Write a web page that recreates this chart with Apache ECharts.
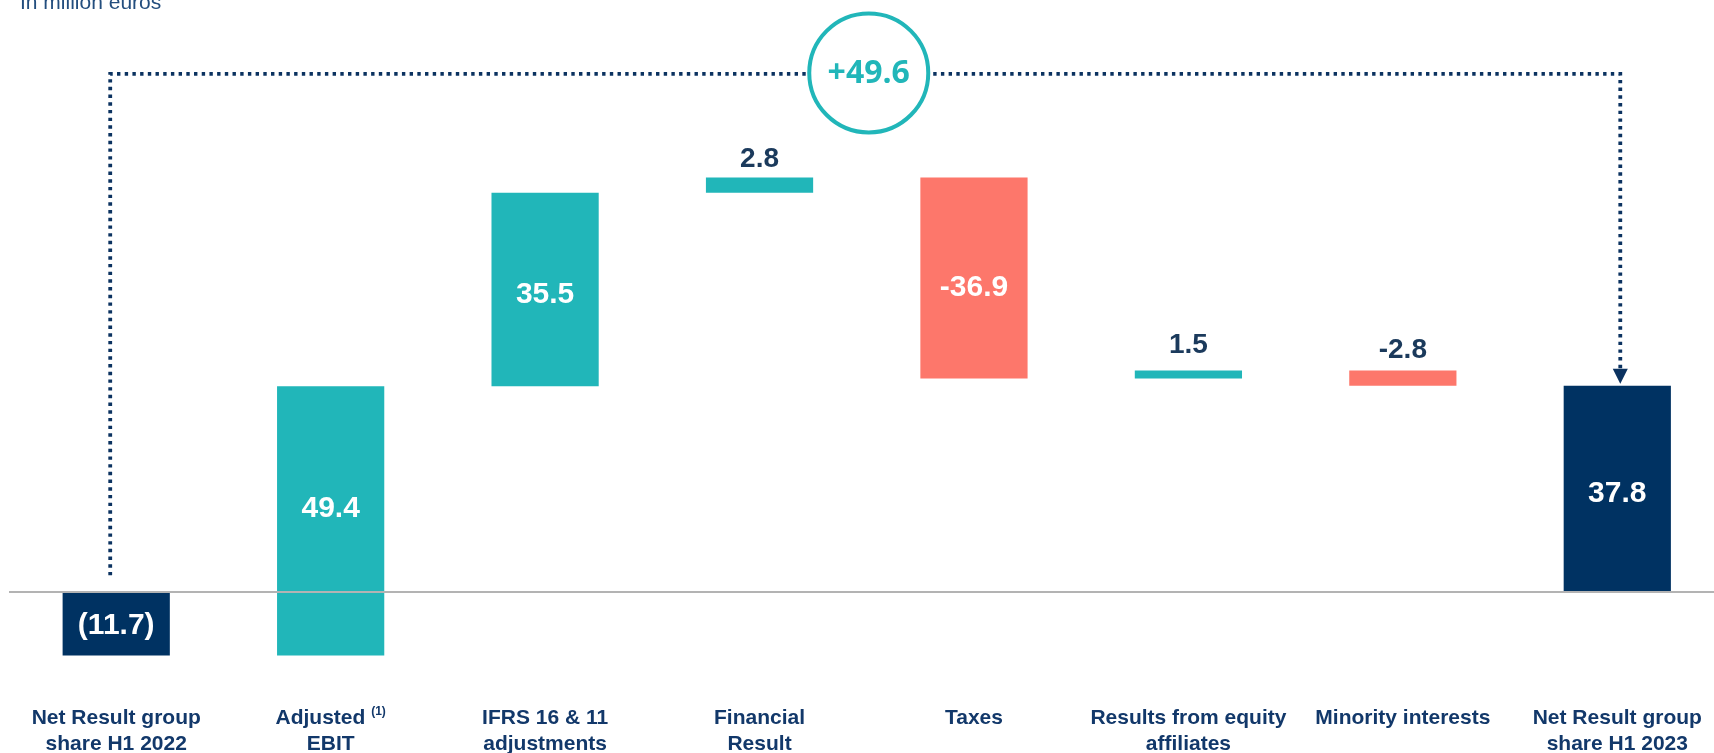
<!DOCTYPE html>
<html>
<head>
<meta charset="utf-8">
<script src="https://cdn.jsdelivr.net/npm/echarts@6/dist/echarts.min.js"></script>
<style>
html, body { margin: 0; padding: 0; background: #fff; }
#main { width: 1714px; height: 753px; }
</style>
</head>
<body>
<div id="main"></div>
<script>
// data (million euros)
const categories = [
    'Net Result group\nshare H1 2022',
    'Adjusted {sup|(1)}\nEBIT',
    'IFRS 16 & 11\nadjustments',
    'Financial\nResult',
    'Taxes',
    'Results from equity\naffiliates',
    'Minority interests',
    'Net Result group\nshare H1 2023'
]
const startValue = -11.7
const deltas = [49.4, 35.5, 2.8, -36.9, 1.5, -2.8]
const endValue = 37.8
const changeLabel = '+49.6'
const unitLabel = 'In million euros'

const NAVY = '#003262'
const TEAL = '#21b6b9'
const SALMON = '#fd776b'
const TEXT_NAVY = '#12386a'
const VALUE_NAVY = '#1b3a5c'
const FONT = '"Liberation Sans", Arial, sans-serif'

// label tweaks by category index (the slide places them by hand)
const topGap = { 3: 4, 5: 11, 6: 6 }
const insideShift = { 0: 2, 1: -12, 2: 5, 4: 10, 7: 5 }

var chart = echarts.init(document.getElementById('main'))

function valueLabel(text, inside, idx) {
    if (inside) {
        return { show: true, position: 'inside', offset: [0, insideShift[idx] || 0], formatter: text,
            color: '#fff', fontFamily: FONT, fontWeight: 'bold', fontSize: 30 }
    }
    return { show: true, position: 'top', distance: topGap[idx] || 5, formatter: text,
        color: VALUE_NAVY, fontFamily: FONT, fontWeight: 'bold', fontSize: 28 }
}

const baseData = []
const barData = []

baseData.push(0)
barData.push({
    value: startValue,
    itemStyle: { color: NAVY },
    label: valueLabel('(' + Math.abs(startValue).toFixed(1) + ')', true, 0)
})

let running = startValue
deltas.forEach((d, i) => {
    const next = running + d
    baseData.push(Math.min(running, next))
    barData.push({
        value: Math.abs(d),
        itemStyle: { color: d >= 0 ? TEAL : SALMON },
        label: valueLabel(d.toFixed(1), Math.abs(d) >= 10, i + 1)
    })
    running = next
})

baseData.push(0)
barData.push({
    value: endValue,
    itemStyle: { color: NAVY },
    label: valueLabel(endValue.toFixed(1), true, categories.length - 1)
})

const option = {
    backgroundColor: '#fff',
    animation: false,
    title: {
        text: unitLabel,
        left: 15,
        top: -12,
        textStyle: { color: '#234e7e', fontFamily: FONT, fontWeight: 'normal', fontSize: 21 }
    },
    grid: {
        left: 9,
        top: 46.7,
        width: 1715.5,
        height: 654,
        outerBoundsMode: 'none'
    },
    xAxis: {
        type: 'category',
        data: categories,
        axisLine: { show: false },
        axisTick: { show: false },
        splitLine: { show: false },
        axisLabel: {
            interval: 0,
            margin: 5,
            color: TEXT_NAVY,
            fontFamily: FONT,
            fontWeight: 'bold',
            fontSize: 21,
            lineHeight: 26,
            rich: {
                sup: {
                    color: TEXT_NAVY,
                    fontFamily: FONT,
                    fontWeight: 'bold',
                    fontSize: 12,
                    lineHeight: 13,
                    verticalAlign: 'top'
                }
            }
        }
    },
    yAxis: {
        type: 'value',
        min: -20,
        max: 100,
        show: false,
        splitLine: { show: false }
    },
    series: [
        {
            name: 'base',
            type: 'bar',
            stack: 'wf',
            stackStrategy: 'all',
            barWidth: '50%',
            silent: true,
            itemStyle: { color: 'transparent' },
            data: baseData
        },
        {
            name: 'value',
            type: 'bar',
            stack: 'wf',
            stackStrategy: 'all',
            barWidth: '50%',
            data: barData,
            markLine: {
                silent: true,
                symbol: 'none',
                label: { show: false },
                lineStyle: { color: '#b3b3b3', width: 2, type: 'solid' },
                data: [{ yAxis: 0 }]
            }
        }
    ]
}

chart.setOption(option)

// dotted bracket from first to last bar, with the change bubble on top
const connectorLevel = 95
const pt = (i, v) => chart.convertToPixel({ gridIndex: 0 }, [i, v])
const last = categories.length - 1
const pStart = pt(0, 3)
const pTop = pt(0, connectorLevel)
const pEnd = pt(last, endValue)
const xL = pStart[0] - 6
const xR = pEnd[0] + 3
const yTop = pTop[1]
const arrowTip = pEnd[1] - 2
const arrowTop = arrowTip - 15
const cx = (pt(3, 0)[0] + pt(4, 0)[0]) / 2 + 2
const cy = yTop - 1

chart.setOption({
    graphic: [
        {
            type: 'polyline',
            silent: true,
            shape: { points: [[xL, pStart[1]], [xL, yTop], [xR, yTop], [xR, arrowTop]] },
            style: { stroke: '#0b3260', lineWidth: 3.8, lineDash: [3.4, 4.3], fill: null }
        },
        {
            type: 'polygon',
            silent: true,
            shape: { points: [[xR - 7.5, arrowTop], [xR + 7.5, arrowTop], [xR, arrowTip]] },
            style: { fill: '#0b3260' }
        },
        {
            type: 'circle',
            silent: true,
            shape: { cx: cx, cy: cy, r: 59.5 },
            style: { fill: '#fff', stroke: TEAL, lineWidth: 4 }
        },
        {
            type: 'text',
            silent: true,
            style: {
                x: cx, y: cy + 1,
                text: changeLabel,
                align: 'center',
                verticalAlign: 'middle',
                fill: TEAL,
                fontFamily: '"Open Sans", sans-serif',
                fontWeight: 'bold',
                fontSize: 32
            }
        }
    ]
})
</script>
</body>
</html>
